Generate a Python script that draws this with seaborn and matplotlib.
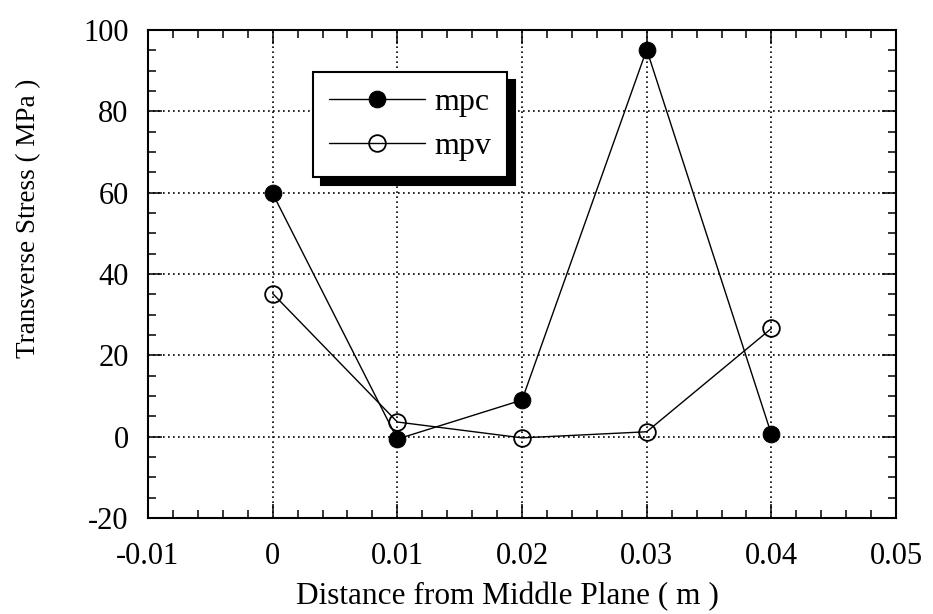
import matplotlib
matplotlib.use("Agg")
import matplotlib.pyplot as plt
import pandas as pd
import seaborn as sns
from matplotlib.patches import Shadow
from matplotlib.ticker import MultipleLocator, FixedLocator, FixedFormatter

# Transverse stress across the plate thickness
distance = [0.0, 0.01, 0.02, 0.03, 0.04]
mpc = [59.8, -0.6, 9.0, 95.2, 0.6]
mpv = [35.2, 3.6, -0.3, 1.2, 26.6]
x_ticks = [-0.01, 0.0, 0.01, 0.02, 0.03, 0.04, 0.05]
x_tick_labels = ["-0.01", "0", "0.01", "0.02", "0.03", "0.04", "0.05"]
y_ticks = [-20, 0, 20, 40, 60, 80, 100]
y_tick_labels = ["-20", "0", "20", "40", "60", "80", "100"]

sns.set_theme(style="ticks")
plt.rcParams["font.family"] = ["Liberation Serif", "DejaVu Serif"]

df = pd.DataFrame({
    "distance": distance * 2,
    "stress": mpc + mpv,
    "series": ["mpc"] * len(distance) + ["mpv"] * len(distance),
})

fig = plt.figure(figsize=(9.33, 6.14), dpi=100)
ax = fig.add_axes([0.1586, 0.1564, 0.8018, 0.7947])

sns.lineplot(data=df[df["series"] == "mpc"], x="distance", y="stress", ax=ax,
             color="black", linewidth=1.0, marker="o", markersize=12,
             markerfacecolor="black", markeredgecolor="black",
             errorbar=None, label="mpc", zorder=3, legend=False)
sns.lineplot(data=df[df["series"] == "mpv"], x="distance", y="stress", ax=ax,
             color="black", linewidth=1.0, marker="o", markersize=12,
             markerfacecolor="none", markeredgecolor="black", markeredgewidth=1.3,
             errorbar=None, label="mpv", zorder=3, legend=False)

ax.set_xlim(-0.01, 0.05)
ax.set_ylim(-20, 100)
ax.xaxis.set_major_locator(FixedLocator(x_ticks))
ax.xaxis.set_major_formatter(FixedFormatter(x_tick_labels))
ax.yaxis.set_major_locator(FixedLocator(y_ticks))
ax.yaxis.set_major_formatter(FixedFormatter(y_tick_labels))
ax.xaxis.set_minor_locator(MultipleLocator(0.002))
ax.yaxis.set_minor_locator(MultipleLocator(5))

ax.tick_params(which="both", direction="in", top=True, right=True,
               color="black", width=1.1)
ax.tick_params(which="major", length=10)
ax.tick_params(which="minor", length=5.5)
ax.tick_params(axis="x", which="major", labelsize=22, pad=17, labelcolor="black")
ax.tick_params(axis="y", which="major", labelsize=22, pad=14, labelcolor="black")

for spine in ax.spines.values():
    spine.set_color("black")
    spine.set_linewidth(1.5)

ax.set_axisbelow(True)
ax.grid(True, which="major", color="black", linestyle=(0, (1, 2)), linewidth=1.2)

ax.set_xlabel("Distance from Middle Plane ( m )", fontsize=22.5, color="black")
ax.set_ylabel("Transverse Stress ( MPa )", fontsize=19.5, color="black")
ax.xaxis.set_label_coords(0.481, -0.132)
ax.yaxis.set_label_coords(-0.143, 0.615)

leg = ax.legend(loc="upper left", bbox_to_anchor=(0.2206, 0.914), borderaxespad=0,
                fontsize=23, frameon=True, fancybox=False, edgecolor="black",
                framealpha=1, borderpad=0.5, handlelength=3.0, handletextpad=0.3,
                labelspacing=0.45)
leg.get_frame().set_linewidth(1.5)
for txt in leg.get_texts():
    txt.set_color("black")

# drop shadow behind the legend frame
fig.canvas.draw()
shadow = Shadow(leg.legendPatch, 5.5, -5.5, facecolor="black", edgecolor="black", alpha=1)
shadow.set_zorder(leg.get_zorder() - 0.1)
ax.add_artist(shadow)

fig.savefig("out.png", dpi=100)
